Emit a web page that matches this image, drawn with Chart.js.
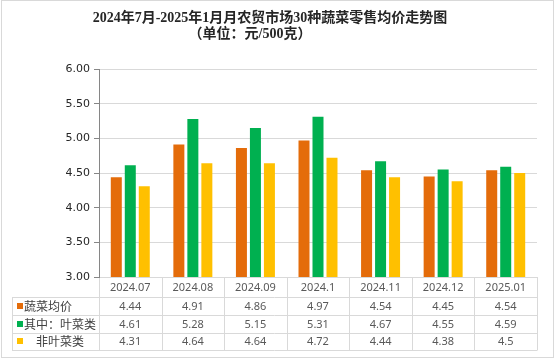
<!DOCTYPE html>
<html>
<head>
<meta charset="utf-8">
<script src="https://cdn.jsdelivr.net/npm/chart.js@4"></script>
<style>
    html, body { margin: 0; padding: 0; background: #fff; }
    #wrap { width: 556px; height: 360px; }
</style>
</head>
<body>
<div id="wrap"><canvas id="priceChart" width="556" height="360"></canvas></div>
<script>
const months = ['2024.07', '2024.08', '2024.09', '2024.1', '2024.11', '2024.12', '2025.01'];
const seriesNames = ['蔬菜均价', '其中：叶菜类', '  非叶菜类'];
const avgPrice = [4.44, 4.91, 4.86, 4.97, 4.54, 4.45, 4.54];
const leafyPrice = [4.61, 5.28, 5.15, 5.31, 4.67, 4.55, 4.59];
const nonLeafyPrice = [4.31, 4.64, 4.64, 4.72, 4.44, 4.38, 4.5];
const valueLabels = [
    ['4.44', '4.91', '4.86', '4.97', '4.54', '4.45', '4.54'],
    ['4.61', '5.28', '5.15', '5.31', '4.67', '4.55', '4.59'],
    ['4.31', '4.64', '4.64', '4.72', '4.44', '4.38', '4.5']
];
const titleLines = ['2024年7月-2025年1月月农贸市场30种蔬菜零售均价走势图', '（单位：元/500克）'];
const colors = ['#E46C0A', '#00B050', '#FFC000'];

// Title, outer frame and the data table under the plot
const tablePlugin = {
    id: 'dataTable',
    afterDraw(chart) {
        const ctx = chart.ctx;
        const area = chart.chartArea;
        const xScale = chart.scales.x;
        const colW = (area.right - area.left) / months.length;
        const tableLeft = 12;
        const rowLines = [297, 315, 332.5, 350];
        const lineColor = '#d9d9d9';

        ctx.save();

        // outer frame
        ctx.strokeStyle = lineColor;
        ctx.lineWidth = 1;
        ctx.strokeRect(1.5, 0.5, 552, 357);

        // title
        ctx.fillStyle = '#262626';
        ctx.textAlign = 'center';
        ctx.textBaseline = 'middle';
        ctx.font = 'bold 14px "Liberation Serif", "Noto Sans CJK SC"';
        ctx.fillText(titleLines[0], 270, 18);
        ctx.fillText(titleLines[1], 250, 34);

        // grid of the table
        ctx.beginPath();
        rowLines.forEach(y => {
            ctx.moveTo(tableLeft, Math.round(y) + 0.5);
            ctx.lineTo(Math.round(area.right), Math.round(y) + 0.5);
        });
        ctx.moveTo(tableLeft + 0.5, rowLines[0]);
        ctx.lineTo(tableLeft + 0.5, rowLines[3] + 0.5);
        for (let i = 0; i <= months.length; i++) {
            const x = Math.round(area.left + i * colW) + 0.5;
            ctx.moveTo(x, i === 0 ? area.bottom + 1 : area.bottom);
            ctx.lineTo(x, rowLines[3] + 0.5);
        }
        ctx.stroke();

        // header row
        ctx.fillStyle = '#595959';
        ctx.font = '11px "Noto Sans"';
        months.forEach((m, i) => {
            ctx.fillText(m, xScale.getPixelForValue(i), (area.bottom + rowLines[0]) / 2 + 1);
        });

        // value rows
        valueLabels.forEach((row, r) => {
            const yc = (rowLines[r] + rowLines[r + 1]) / 2 + 1;
            row.forEach((v, i) => {
                ctx.fillText(v, xScale.getPixelForValue(i), yc);
            });
        });

        // series names with colour keys
        ctx.textAlign = 'left';
        ctx.font = '12px "Noto Sans CJK SC"';
        seriesNames.forEach((name, r) => {
            const yc = (rowLines[r] + rowLines[r + 1]) / 2;
            ctx.fillStyle = colors[r];
            ctx.fillRect(17, Math.round(yc) - 3, 6, 6);
            ctx.fillStyle = '#404040';
            const indent = r === 2 ? 36 : 24;
            ctx.fillText(name.trim(), indent, yc + 0.5);
        });

        ctx.restore();
    }
};

new Chart(document.getElementById('priceChart'), {
    type: 'bar',
    data: {
        labels: months,
        datasets: [
            { label: seriesNames[0], data: avgPrice, backgroundColor: colors[0] },
            { label: seriesNames[1], data: leafyPrice, backgroundColor: colors[1] },
            { label: seriesNames[2], data: nonLeafyPrice, backgroundColor: colors[2] }
        ].map(ds => Object.assign(ds, { categoryPercentage: 0.671, barPercentage: 0.786 }))
    },
    options: {
        responsive: false,
        animation: false,
        layout: { padding: { top: 69, bottom: 83, left: 0, right: 19 } },
        plugins: {
            legend: { display: false },
            title: { display: false },
            tooltip: { enabled: false }
        },
        scales: {
            x: { display: false },
            y: {
                min: 3,
                max: 6,
                afterFit(scale) { scale.width = 99; },
                ticks: {
                    stepSize: 0.5,
                    color: '#262626',
                    padding: 4,
                    font: { family: 'DejaVu Sans', size: 11 },
                    callback: v => v.toFixed(2)
                },
                grid: { color: '#d9d9d9', tickLength: 5, tickColor: '#868686' },
                border: { color: '#868686' }
            }
        }
    },
    plugins: [tablePlugin]
});
</script>
</body>
</html>
